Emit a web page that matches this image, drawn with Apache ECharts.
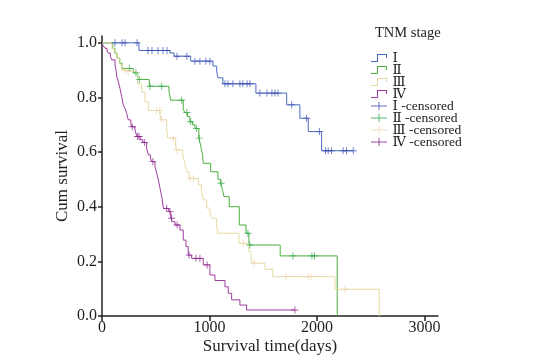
<!DOCTYPE html>
<html><head><meta charset="utf-8">
<script src="https://cdn.jsdelivr.net/npm/echarts@6/dist/echarts.min.js"></script>
<style>html,body{margin:0;padding:0;background:#fff}#c{width:545px;height:361px}</style>
</head><body><div id="c"></div>
<script>
// ---- Data ----
const groupNames = ['Ⅰ', 'Ⅱ', 'Ⅲ', 'Ⅳ'];
const censorNames = ['Ⅰ -censored', 'Ⅱ -censored', 'Ⅲ -censored', 'Ⅳ -censored'];
const xTicks = [0, 1000, 2000, 3000];
const yTicks = [0, 0.2, 0.4, 0.6, 0.8, 1.0];

// Stage I
const t1 = [0, 344, 632, 670, 825, 1032, 1067, 1079, 1125, 1432, 1718, 1841, 1919, 2043, 2337];
const s1 = [1, 0.972, 0.963, 0.951, 0.933, 0.915, 0.896, 0.872, 0.85, 0.816, 0.773, 0.724, 0.675, 0.605, 0.605];
const c1 = [121, 186, 214, 326, 428, 465, 521, 567, 605, 698, 790, 865, 911, 967, 1004, 1144, 1172, 1218, 1283, 1311, 1349, 1376, 1469, 1535, 1581, 1609, 1637, 1765, 1904, 2022, 2080, 2104, 2135, 2243, 2275, 2337];

// Stage II
const t2 = [0, 100, 120, 140, 165, 186, 291, 332, 440, 623, 639, 756, 772, 795, 818, 842, 865, 901, 918, 927, 936, 942, 1011, 1079, 1104, 1122, 1135, 1184, 1277, 1340, 1367, 1658, 2188];
const s2 = [1, 0.98, 0.962, 0.944, 0.925, 0.906, 0.89, 0.866, 0.841, 0.823, 0.79, 0.755, 0.745, 0.73, 0.711, 0.7, 0.686, 0.651, 0.625, 0.605, 0.59, 0.559, 0.528, 0.5, 0.486, 0.46, 0.437, 0.4, 0.333, 0.303, 0.26, 0.22, 0];
const c2 = [254, 316, 347, 446, 555, 741, 790, 825, 880, 905, 1107, 1358, 1375, 1777, 1953, 1976];

// Stage III
const t3 = [0, 93, 112, 140, 167, 186, 232, 307, 332, 369, 400, 431, 540, 549, 602, 611, 685, 690, 750, 763, 772, 788, 809, 896, 927, 942, 974, 1004, 1020, 1067, 1076, 1274, 1367, 1386, 1404, 1516, 1590, 2167, 2579];
const s3 = [1, 0.98, 0.963, 0.944, 0.92, 0.9, 0.895, 0.89, 0.85, 0.82, 0.785, 0.752, 0.736, 0.718, 0.681, 0.651, 0.62, 0.608, 0.596, 0.57, 0.553, 0.528, 0.504, 0.48, 0.455, 0.425, 0.395, 0.376, 0.358, 0.333, 0.303, 0.266, 0.236, 0.205, 0.193, 0.171, 0.144, 0.098, 0];
const c3 = [214, 242, 509, 539, 555, 663, 695, 818, 849, 1314, 1414, 1711, 1919, 1944, 2260];

// Stage IV
const t4 = [0, 10, 28, 47, 59, 78, 90, 121, 130, 137, 152, 167, 183, 198, 214, 229, 245, 268, 275, 307, 325, 355, 380, 415, 431, 450, 465, 493, 509, 524, 540, 556, 565, 571, 620, 640, 655, 680, 725, 756, 781, 802, 834, 942, 1004, 1051, 1144, 1175, 1206, 1283, 1345, 1795];
const s4 = [1, 0.99, 0.98, 0.97, 0.962, 0.95, 0.938, 0.919, 0.9, 0.877, 0.858, 0.834, 0.803, 0.773, 0.76, 0.742, 0.718, 0.705, 0.693, 0.681, 0.657, 0.645, 0.635, 0.614, 0.59, 0.578, 0.565, 0.547, 0.523, 0.498, 0.467, 0.437, 0.41, 0.394, 0.382, 0.358, 0.345, 0.333, 0.315, 0.278, 0.254, 0.223, 0.211, 0.187, 0.15, 0.13, 0.107, 0.083, 0.059, 0.04, 0.022, 0.022];
const c4 = [281, 332, 345, 394, 473, 602, 632, 648, 699, 810, 874, 911, 978, 1795];

// ---- Styling ----
const lineColors = ['#4a6bc4', '#4cae3c', '#e4dba4', '#a03ca0'];
const censorColors = ['#3a4cb0', '#2ea84a', '#f0d2aa', '#88208a'];
const FONT = "'Liberation Serif', 'DejaVu Serif', serif";

const groups = [[t1, s1, c1], [t2, s2, c2], [t3, s3, c3], [t4, s4, c4]];
function survAt(ts, ss, t) {
  let v = ss[0];
  for (let i = 0; i < ts.length; i++) { if (ts[i] <= t) v = ss[i]; else break; }
  return v;
}
const plusSym = 'path://M3.5,0H4.5V3.5H8V4.5H4.5V8H3.5V4.5H0V3.5H3.5Z';
const stepIcon = 'path://M0,7H6V0H16V4H15V1H7V8H0Z';
const censorIcon = 'path://M0,3.5H16V4.5H0ZM7.5,0H8.5V8H7.5Z';

const series = [];
groups.forEach((g, k) => {
  series.push({
    name: groupNames[k], type: 'line', step: 'end', showSymbol: false, symbol: 'none',
    data: g[0].map((t, i) => [t, g[1][i]]),
    lineStyle: { color: lineColors[k], width: 1 },
    itemStyle: { color: lineColors[k] },
    animation: false, z: 2
  });
});
groups.forEach((g, k) => {
  series.push({
    name: censorNames[k], type: 'scatter', symbol: plusSym, symbolSize: 7,
    data: g[2].map(t => [t, survAt(g[0], g[1], t)]),
    itemStyle: { color: censorColors[k] },
    animation: false, z: 3
  });
});

const chart = echarts.init(document.getElementById('c'), null, { renderer: 'canvas' });
chart.setOption({
  backgroundColor: '#fff',
  animation: false,
  grid: { left: 102, right: 107, top: 36, bottom: 45 },
  graphic: [{ type: 'text', left: 375, top: 26, style: { text: 'TNM stage', font: '14.5px ' + FONT, fill: '#222' } }],
  legend: {
    orient: 'vertical', left: 366, top: 46, itemGap: -2, itemWidth: 17, itemHeight: 8, itemTextGap: 6,
    textStyle: { fontFamily: FONT, fontSize: 13.5, color: '#222' },
    data: groupNames.map(n => ({ name: n, icon: stepIcon })).concat(censorNames.map(n => ({ name: n, icon: censorIcon })))
  },
  xAxis: {
    type: 'value', min: 0, max: 3126,
    name: 'Survival time(days)', nameLocation: 'middle', nameGap: 22, nameMoveOverlap: false,
    nameTextStyle: { fontFamily: FONT, fontSize: 17, color: '#231f20' },
    axisLine: { lineStyle: { color: '#231f20', width: 1.5 } },
    axisTick: { show: true, length: 5, lineStyle: { color: '#231f20', width: 1.5 }, customValues: xTicks },
    axisLabel: { fontFamily: FONT, fontSize: 16, color: '#231f20', margin: 4, customValues: xTicks, formatter: v => String(v) },
    splitLine: { show: false }
  },
  yAxis: {
    type: 'value', min: 0, max: 1.025,
    name: 'Cum survival', nameLocation: 'middle', nameGap: 31, nameRotate: 90, nameMoveOverlap: false,
    nameTextStyle: { fontFamily: FONT, fontSize: 17, color: '#231f20' },
    axisLine: { lineStyle: { color: '#231f20', width: 1.5 } },
    axisTick: { show: true, length: 4, lineStyle: { color: '#231f20', width: 1.5 }, customValues: yTicks },
    axisLabel: { fontFamily: FONT, fontSize: 16, color: '#231f20', margin: 5, customValues: yTicks, formatter: v => v.toFixed(1) },
    splitLine: { show: false }
  },
  series: series
});
</script></body></html>
